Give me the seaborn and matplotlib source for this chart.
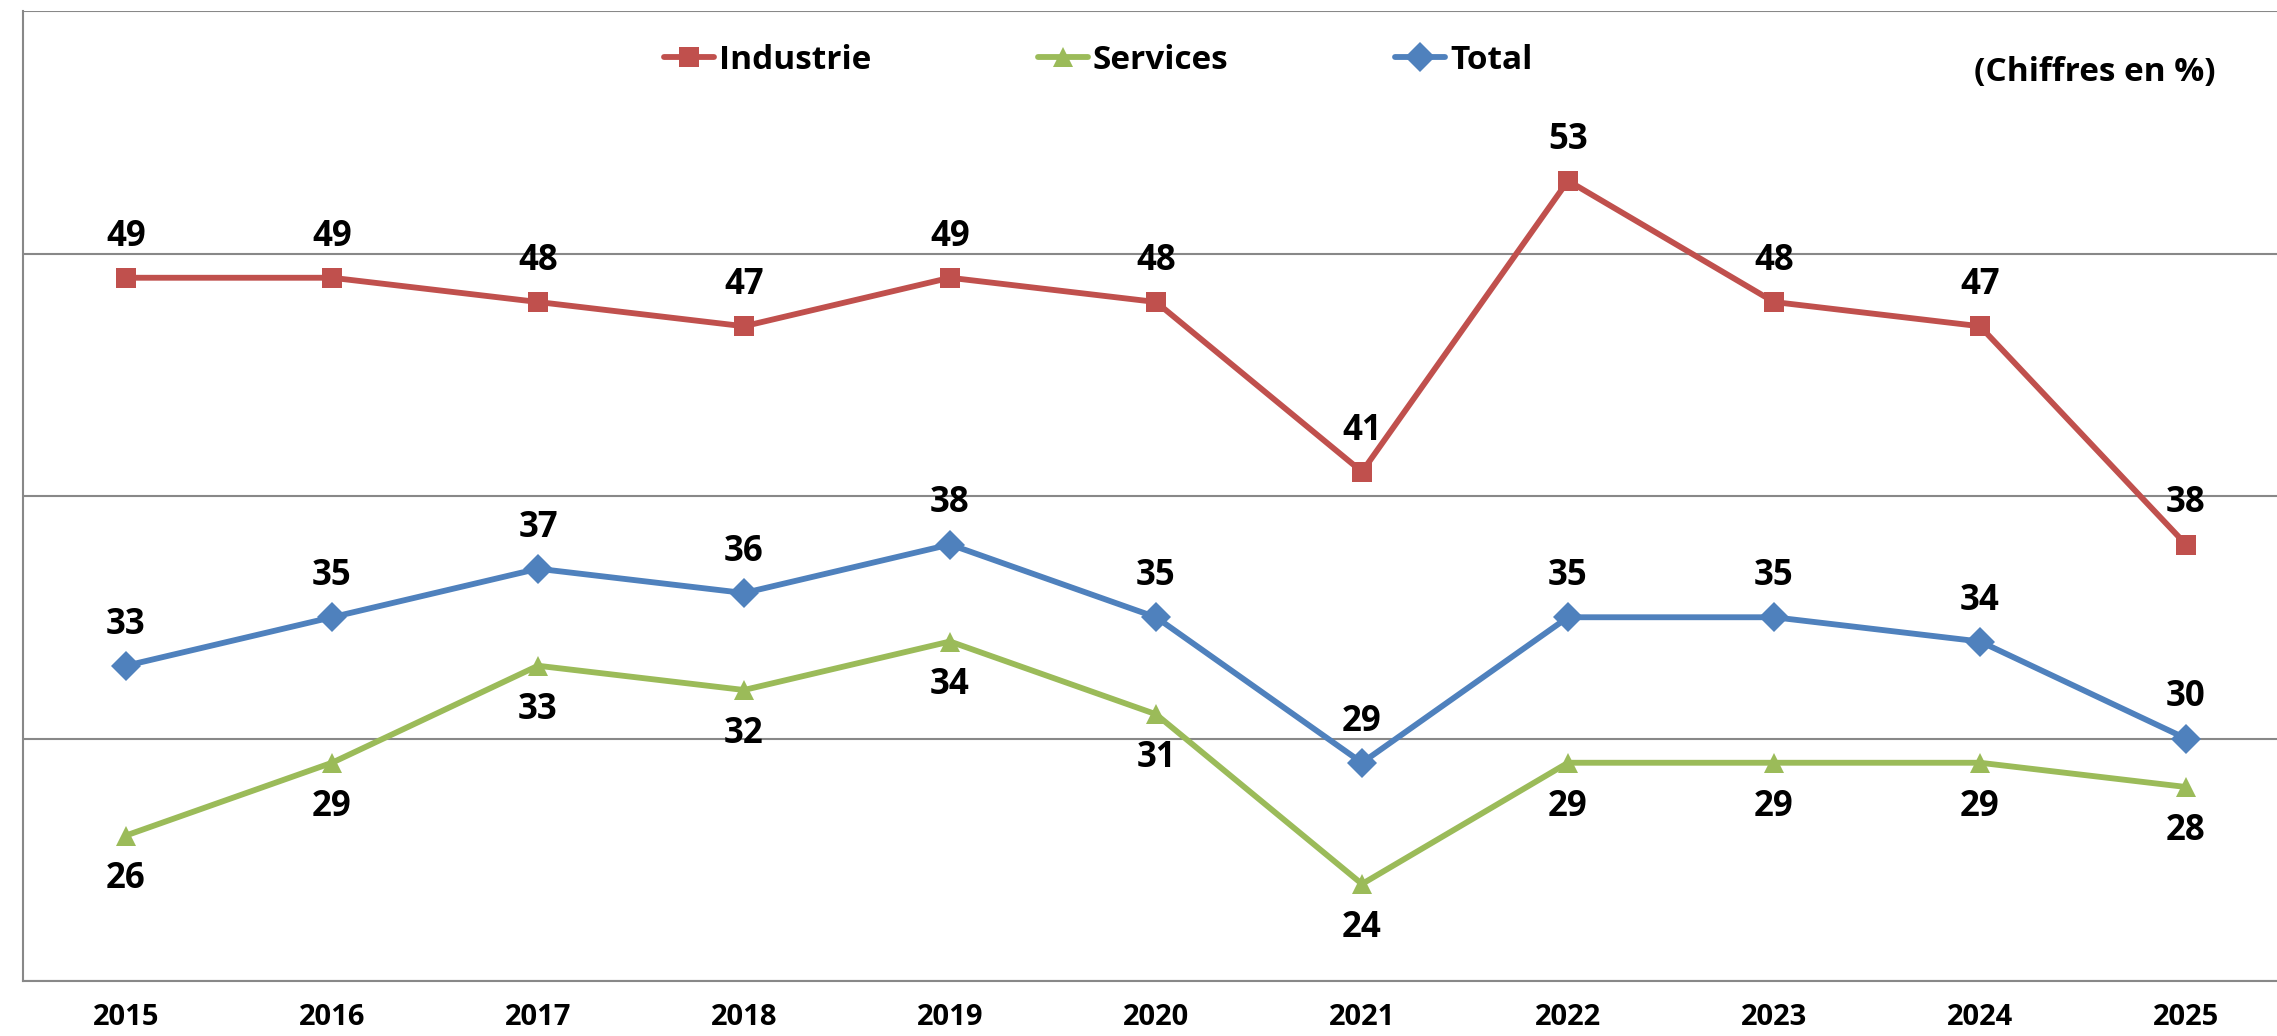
import seaborn as sns
import matplotlib.pyplot as plt
import pandas as pd

# data
years = ["2015", "2016", "2017", "2018", "2019", "2020", "2021", "2022", "2023", "2024", "2025"]
industrie = [49, 49, 48, 47, 49, 48, 41, 53, 48, 47, 38]
services = [26, 29, 33, 32, 34, 31, 24, 29, 29, 29, 28]
total = [33, 35, 37, 36, 38, 35, 29, 35, 35, 34, 30]

series = {"Industrie": industrie, "Services": services, "Total": total}
colors = {"Industrie": "#C0504D", "Services": "#9BBB59", "Total": "#4F81BD"}
markers = {"Industrie": "s", "Services": "^", "Total": "D"}

rows = []
for name, vals in series.items():
    for i, v in enumerate(vals):
        rows.append({"pos": i, "year": years[i], "serie": name, "val": v})
df = pd.DataFrame(rows)

sns.set_style("white")
plt.rcParams["font.family"] = ["Open Sans", "DejaVu Sans"]
plt.rcParams["font.weight"] = "bold"
plt.rcParams["text.color"] = "black"
plt.rcParams["xtick.color"] = "black"

fig = plt.figure(figsize=(22.77, 10.36), dpi=100)
ax = fig.add_axes([23 / 2277, 55 / 1036, 2266 / 2277, 970 / 1036])

sns.lineplot(data=df, x="pos", y="val", hue="serie", style="serie",
             palette=colors, markers=markers, dashes=False, linewidth=4.2,
             markersize=15, markeredgewidth=0, ax=ax)

# data labels
for name, vals in series.items():
    off = -44 if name == "Services" else 41
    for i, v in enumerate(vals):
        ax.annotate(str(v), (i, v), xytext=(0, off), textcoords="offset pixels",
                    ha="center", va="center", fontsize=25, fontweight="bold",
                    color="black")

ax.set_xlim(-0.5, len(years) - 0.5)
ax.set_ylim(20, 60)
ax.set_xticks(range(len(years)))
ax.set_xticklabels(years, fontsize=21, fontweight="bold")
ax.set_xticks([i - 0.5 for i in range(len(years) + 1)], minor=True)
ax.tick_params(axis="x", which="major", length=0, pad=16, labelcolor="black")
ax.tick_params(axis="x", which="minor", length=7, width=1.5, color="#888888")
ax.set_yticks([20, 30, 40, 50, 60])
ax.set_yticklabels([])
ax.tick_params(axis="y", length=6, width=1.5, color="#888888")
ax.grid(axis="y", color="#888888", linewidth=1.5)
ax.set_xlabel("")
ax.set_ylabel("")
for s in ["top", "right"]:
    ax.spines[s].set_visible(False)
for s in ["left", "bottom"]:
    ax.spines[s].set_color("#888888")
    ax.spines[s].set_linewidth(1.5)

ax.legend(loc="upper left", bbox_to_anchor=(611 / 2266, 0.997), ncol=3, frameon=False,
          handlelength=1.5, handletextpad=0.15, columnspacing=5.0,
          prop={"weight": "bold", "size": 24})

fig.text(2095 / 2277, 1 - 73 / 1036, "(Chiffres en %)", ha="center", va="center",
         fontsize=24, fontweight="bold", color="black")

fig.savefig("out.png", dpi=100)
